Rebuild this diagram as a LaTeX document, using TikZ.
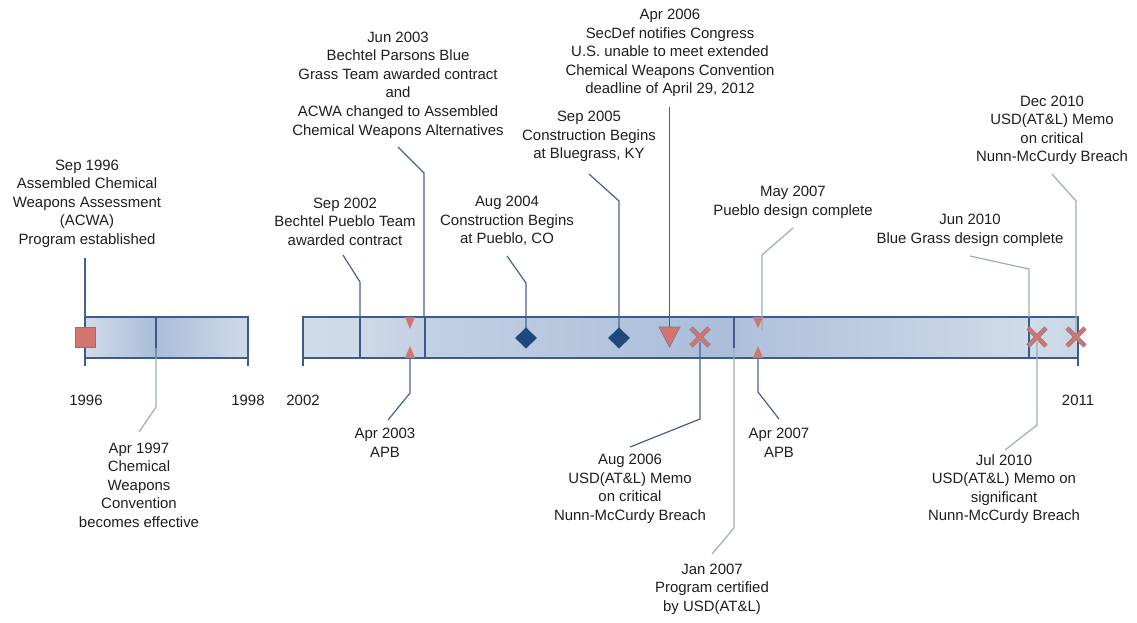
\documentclass[tikz,border=0pt]{standalone}
\usepackage{fontspec}
\setmainfont{Liberation Sans}
\usetikzlibrary{shapes.geometric,shapes.misc}
\definecolor{Ink}{HTML}{1E1E1E}
\definecolor{Frame}{HTML}{3B5B8C}
\definecolor{BarLight}{HTML}{D0DBE9}
\definecolor{BarMid}{HTML}{C2D0E3}
\definecolor{BarDark}{HTML}{AABDD9}
\definecolor{Lead}{HTML}{46628C}
\definecolor{LeadPale}{HTML}{9DAAC0}
\definecolor{Alert}{HTML}{D5736F}
\definecolor{AlertRim}{HTML}{6F7A93}
\definecolor{Milestone}{HTML}{1F497D}
\tikzset{note/.style={align=center,inner sep=0pt,text=Ink,
    font=\fontsize{11.2}{13.9}\selectfont},
  lead/.style={draw=Lead,line width=0.9pt},
  leadpale/.style={draw=LeadPale,line width=0.9pt},
  divider/.style={draw=Frame,line width=0.8pt},
  sqmark/.style={rectangle,draw=AlertRim,fill=Alert,line width=0.6pt,
    minimum size=15.5pt,inner sep=0pt},
  gem/.style={diamond,fill=Milestone,aspect=1,minimum width=16.5pt,
    minimum height=16pt,inner sep=0pt},
  breach/.style={cross out,draw=AlertRim,line width=0.45pt,double=Alert,
    double distance=2.5pt,minimum size=13pt,inner sep=0pt},
  apb/.style={fill=Alert}}

\begin{document}
\begin{tikzpicture}[x=0.75pt,y=-0.75pt]
  \useasboundingbox (0,0) rectangle (1137,622);

  \shade[left color=BarLight,right color=BarDark] (85,317) rectangle (156,358);
  \shade[left color=BarDark,right color=BarLight] (156,317) rectangle (248,358);
  \shade[left color=BarLight,right color=BarLight!96!BarDark] (303,317) rectangle (360,358);
  \shade[left color=BarLight!96!BarDark,right color=BarMid] (360,317) rectangle (425,358);
  \shade[left color=BarMid,right color=BarDark] (425,317) rectangle (734,358);
  \shade[left color=BarDark!90!BarLight,right color=BarLight] (734,317) rectangle (1029,358);
  \shade[left color=BarLight,right color=BarLight!85!BarDark] (1029,317) rectangle (1078,358);
  \draw[divider] (85,366) -- (85,317) -- (248,317) -- (248,366);
  \draw[divider] (85,358) -- (248,358);
  \draw[divider] (156,317) -- (156,358);
  \draw[divider] (303,366) -- (303,317) -- (1078,317) -- (1078,366);
  \draw[divider] (303,358) -- (1078,358);
  \foreach \xd in {360,425,1029}
    \draw[divider] (\xd,317) -- (\xd,358);
  \draw[divider] (734,317) -- (734,348);

  \node[note] (y1996) at (86,400) {1996};
  \node[note] (y1998) at (248,400) {1998};
  \node[note] (y2002) at (303,400) {2002};
  \node[note] (y2011) at (1078,400) {2011};

  \node[note] (n96sep) at (87,203.5) {Sep 1996\\Assembled Chemical\\Weapons Assessment\\(ACWA)\\Program established};
  \node[note] (n97apr) at (139,485) {Apr 1997\\Chemical\\Weapons\\Convention\\becomes effective};
  \node[note] (n02sep) at (345,221.5) {Sep 2002\\Bechtel Pueblo Team\\awarded contract};
  \node[note] (n03jun) at (398,85) {Jun 2003\\Bechtel Parsons Blue\\Grass Team awarded contract\\and\\ACWA changed to Assembled\\Chemical Weapons Alternatives};
  \node[note] (n03apr) at (385,443) {Apr 2003\\APB};
  \node[note] (n04aug) at (507,221) {Aug 2004\\Construction Begins\\at Pueblo, CO};
  \node[note] (n05sep) at (589,136.5) {Sep 2005\\Construction Begins\\at Bluegrass, KY};
  \node[note] (n06apr) at (670,53) {Apr 2006\\SecDef notifies Congress\\U.S. unable to meet extended\\Chemical Weapons Convention\\deadline of April 29, 2012};
  \node[note] (n06aug) at (630,489) {Aug 2006\\USD(AT\&L) Memo\\on critical\\Nunn-McCurdy Breach};
  \node[note] (n07jan) at (712,589) {Jan 2007\\Program certified\\by USD(AT\&L)};
  \node[note] (n07apr) at (779,443) {Apr 2007\\APB};
  \node[note] (n07may) at (793,202.5) {May 2007\\Pueblo design complete};
  \node[note] (n10jun) at (970,230.5) {Jun 2010\\Blue Grass design complete};
  \node[note] (n10jul) at (1004,489) {Jul 2010\\USD(AT\&L) Memo on\\significant\\Nunn-McCurdy Breach};
  \node[note] (n10dec) at (1052,130.5) {Dec 2010\\USD(AT\&L) Memo\\on critical\\Nunn-McCurdy Breach};

  \coordinate (m97apr) at (156,348);
  \coordinate (m02sep) at (360,317);
  \coordinate (m03jun) at (424,317);
  \coordinate (m06apr) at (669.5,327);
  \coordinate (m07jan) at (734,348);
  \coordinate (m07may) at (762,330);
  \coordinate (m10jun) at (1029,317);
  \coordinate (m03apr) at (410,358);
  \coordinate (m07apr) at (758,358);

  \draw[lead] (85,258) -- (85,317);
  \draw[leadpale] (m97apr) -- (156,407) -- (139,432);
  \draw[lead] (343,255) -- (360,282) -- (m02sep);
  \draw[lead] (398,147) -- (424,173) -- (m03jun);
  \draw[lead] (507,256) -- (526,283) -- (526,330);
  \draw[lead] (589,174) -- (619,201) -- (619,330);
  \draw[lead] (669.5,107) -- (m06apr);
  \draw[leadpale] (793,228) -- (762,255) -- (m07may);
  \draw[leadpale] (970,256) -- (1029,269) -- (m10jun);
  \draw[leadpale] (1052,174) -- (1076,201) -- (1076,334);
  \draw[lead] (m03apr) -- (410,393) -- (388,420);
  \draw[lead] (700,342) -- (700,419) -- (630,447);
  \draw[leadpale] (m07jan) -- (734,528) -- (712,554);
  \draw[lead] (m07apr) -- (758,392) -- (779,419);
  \draw[leadpale] (1037,342) -- (1037,425) -- (1005,450);

  \node[sqmark] (m96sep) at (85.5,337.5) {};
  \node[gem] (m04aug) at (526,338) {};
  \node[gem] (m05sep) at (619,338) {};
  \filldraw[fill=Alert,draw=AlertRim,line width=0.5pt] (659,327) -- (680,327) -- (669.5,347) -- cycle;
  \fill[apb] (405,317) -- (415,317) -- (410,329) -- cycle;
  \fill[apb] (405,358) -- (415,358) -- (410,346) -- cycle;
  \fill[apb] (753,317) -- (763,317) -- (758,328) -- cycle;
  \fill[apb] (753,358) -- (763,358) -- (758,346) -- cycle;
  \node[breach] (m06aug) at (700,337) {};
  \node[breach] (m10jul) at (1037,337) {};
  \node[breach] (m10dec) at (1076,337) {};
\end{tikzpicture}
\end{document}
